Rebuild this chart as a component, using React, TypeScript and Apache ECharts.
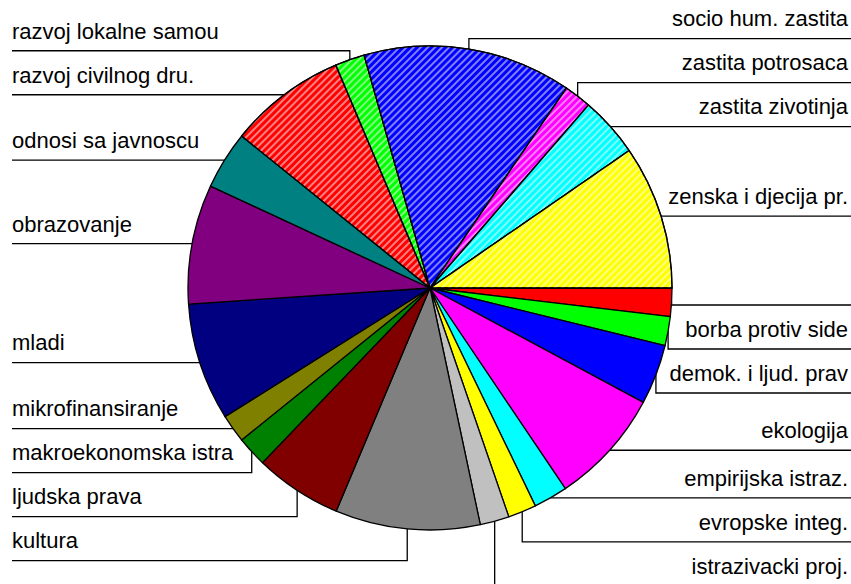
import React, { useEffect, useRef } from 'react';
import * as echarts from 'echarts';

// ---- data ----
const categories: string[] = [
  '',
  'borba protiv side',
  'demok. i ljud. prav',
  'ekologija',
  'empirijska istraz.',
  'evropske integ.',
  'istrazivacki proj.',
  'kultura',
  'ljudska prava',
  'makroekonomska istra',
  'mikrofinansiranje',
  'mladi',
  'obrazovanje',
  'odnosi sa javnoscu',
  'razvoj civilnog dru.',
  'razvoj lokalne samou',
  'socio hum. zastita',
  'zastita potrosaca',
  'zastita zivotinja',
  'zenska i djecija pr.',
];

const values: number[] = [
  6.8, 7.0, 14.4, 27.8, 8.2, 6.8, 7.0, 34.8, 21.0, 7.3,
  6.8, 28.3, 28.7, 14.0, 28.2, 7.1, 50.1, 6.6, 14.5, 34.6,
];

const colors: string[] = [
  '#FF0000', '#00FF00', '#0000FF', '#FF00FF', '#00FFFF', '#FFFF00', '#C0C0C0',
  '#808080', '#800000', '#008000', '#808000', '#000080', '#800080', '#008080',
  '#FF0000', '#00FF00', '#0000FF', '#FF00FF', '#00FFFF', '#FFFF00',
];

const hatched: boolean[] = [
  false, false, false, false, false, false, false, false, false, false,
  false, false, false, false, true, true, true, true, true, true,
];

// ---- layout constants ----
const CX = 430;
const CY = 288;
const R = 242;
const GAP = 44;
const CENTER_CLEAR = 17;
const LEFT_X = 12;
const RIGHT_X = 848;
const RIGHT_LINE_END = 851;
const FONT_SIZE = 22;
const FONT = "'Liberation Sans', Arial, Helvetica, sans-serif";

const HATCH = {
  symbol: 'rect',
  symbolSize: 1,
  color: 'rgba(255,255,255,0.5)',
  dashArrayX: [1, 0],
  dashArrayY: [1.2, 2.6],
  rotation: -Math.PI / 4,
};

function computeLevels() {
  const total = values.reduce((a, b) => a + b, 0);
  let acc = 0;
  const items = values.map((v, i) => {
    const a0 = (acc / total) * Math.PI * 2;
    acc += v;
    const a1 = (acc / total) * Math.PI * 2;
    const mid = (a0 + a1) / 2;
    return {
      i,
      ex: CX + R * Math.cos(mid),
      ey: CY + R * Math.sin(mid),
      right: Math.cos(mid) >= 0,
    };
  });
  const levels: number[] = new Array(values.length).fill(0);
  [true, false].forEach((side) => {
    const s = items.filter((it) => it.right === side);
    const lower = s.filter((it) => it.ey >= CY).sort((a, b) => a.ey - b.ey);
    let prev = CY + CENTER_CLEAR - GAP;
    lower.forEach((it) => {
      const y = Math.max(it.ey, prev + GAP);
      levels[it.i] = y;
      prev = y;
    });
    const upper = s.filter((it) => it.ey < CY).sort((a, b) => b.ey - a.ey);
    let next = CY - CENTER_CLEAR + GAP;
    upper.forEach((it) => {
      const y = Math.min(it.ey, next - GAP);
      levels[it.i] = y;
      next = y;
    });
  });
  return { items, levels };
}

export default function App() {
  const ref = useRef<HTMLDivElement>(null);

  useEffect(() => {
    if (!ref.current) return;
    const chart = echarts.init(ref.current, null, { renderer: 'svg' });
    const { items, levels } = computeLevels();

    chart.setOption({
      animation: false,
      backgroundColor: '#ffffff',
      series: [
        {
          type: 'pie',
          center: [CX, CY],
          radius: R,
          startAngle: 0,
          clockwise: true,
          avoidLabelOverlap: false,
          silent: true,
          emphasis: { disabled: true },
          data: categories.map((name, i) => ({
            name,
            value: values[i],
            itemStyle: hatched[i]
              ? { color: colors[i], decal: HATCH }
              : { color: colors[i] },
          })),
          itemStyle: { borderColor: '#000', borderWidth: 1.3 },
          label: {
            show: true,
            position: 'outer',
            formatter: (p: any) => p.name || ' ',
            color: '#000',
            fontSize: FONT_SIZE,
            lineHeight: FONT_SIZE,
            fontFamily: FONT,
          },
          labelLine: {
            show: true,
            length: 8,
            length2: 8,
            smooth: false,
            lineStyle: { color: '#000', width: 1.3 },
          },
          labelLayout: (params: any) => {
            const idx = params.dataIndex;
            const it = items[idx];
            const lvl = levels[idx];
            const p0 =
              params.labelLinePoints && params.labelLinePoints[0]
                ? params.labelLinePoints[0]
                : [it.ex, it.ey];
            const endX = it.right ? RIGHT_LINE_END : LEFT_X;
            return {
              x: it.right ? RIGHT_X : LEFT_X,
              y: lvl - 19.6,
              align: it.right ? 'right' : 'left',
              verticalAlign: 'middle',
              labelLinePoints: [
                [p0[0], p0[1]],
                [p0[0], lvl],
                [endX, lvl],
              ],
            };
          },
        },
      ],
    });

    return () => chart.dispose();
  }, []);

  return (
    <div
      ref={ref}
      style={{ position: 'fixed', left: 0, top: 0, width: 851, height: 584, background: '#fff' }}
    />
  );
}
